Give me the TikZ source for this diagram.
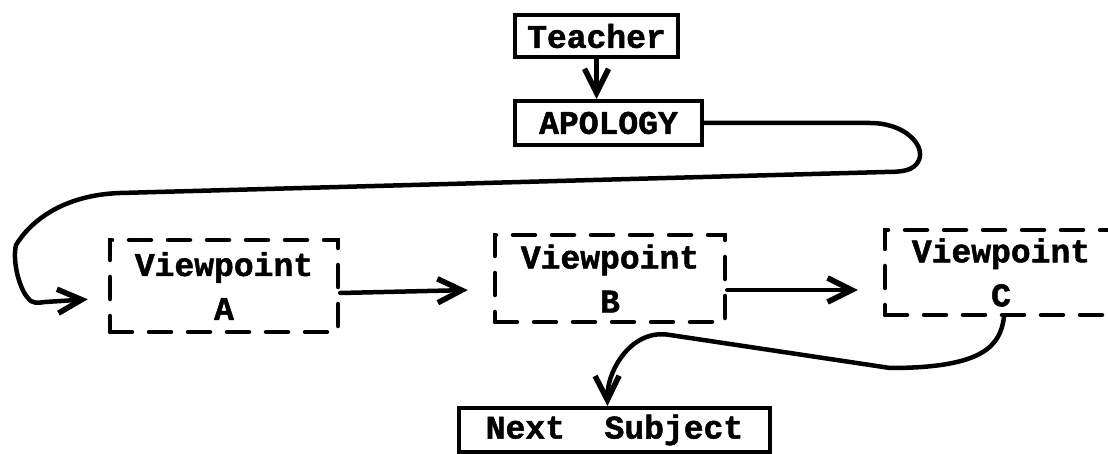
\documentclass[tikz,border=0pt]{standalone}
\usepackage{fontspec}
\setmonofont[BoldFeatures={FakeBold=1.5}]{Liberation Mono}
\usetikzlibrary{arrows.meta,calc}
\begin{document}
\begin{tikzpicture}[x=1pt,y=-1pt,
  lbl/.style={font=\ttfamily\bfseries\fontsize{33}{44}\selectfont, inner sep=0pt, align=center},
  solidbox/.style={lbl, draw, line width=4pt},
  dashbox/.style={lbl, draw, line width=4.5pt, line cap=round, dash pattern=on 22pt off 17pt},
  conn/.style={line width=4.5pt, line cap=round, line join=round,
    -{Straight Barb[length=24pt,width=24pt,line width=5.5pt]}}]
\fill[white] (0,0) rectangle (1108,454);
\useasboundingbox (0,0) rectangle (1108,454);

\node[solidbox, minimum width=163pt, minimum height=42pt] (teacher) at (596.5,36) {Teacher};
\node[solidbox, minimum width=187pt, minimum height=44pt] (apology) at (608.5,123) {APOLOGY};
\node[dashbox, minimum width=228pt, minimum height=92pt] (A) at (224,286) {Viewpoint\\A};
\node[dashbox, minimum width=230pt, minimum height=87pt] (B) at (610,278.5) {Viewpoint\\B};
\node[dashbox, minimum width=232pt, minimum height=85pt] (C) at (1001,272.5) {Viewpoint\\C};
\node[solidbox, minimum width=311pt, minimum height=44pt] (next) at (614.5,430) {Next\ \ Subject};

\draw[conn] (teacher.south) -- (teacher.south |- apology.north);
\draw[conn, shorten >=20pt] (apology.east) -- (870,123)
  .. controls (905,123) and (925,145) .. (919,160)
  .. controls (914,171) and (902,172) .. (885,172)
  -- (120,193)
  .. controls (62,195) and (30,222) .. (16,245)
  .. controls (12,262) and (20,290) .. (28,298)
  .. controls (32,304) and (38,303) .. (45,302)
  -- ($(A.west)+(0,12)$);
\draw[conn, shorten >=25pt] ($(A.east)+(0,7)$) -- ($(B.west)+(0,11)$);
\draw[conn, shorten >=25pt] ($(B.east)+(0,11.5)$) -- ($(C.west)+(0,17.5)$);
\draw[conn] ($(C.south)+(3,0)$)
  .. controls (1000,345) and (985,368) .. (890,368)
  -- (670,335)
  .. controls (632,328) and (607,370) .. ($(next.north)+(-7,0)$);
\end{tikzpicture}
\end{document}
